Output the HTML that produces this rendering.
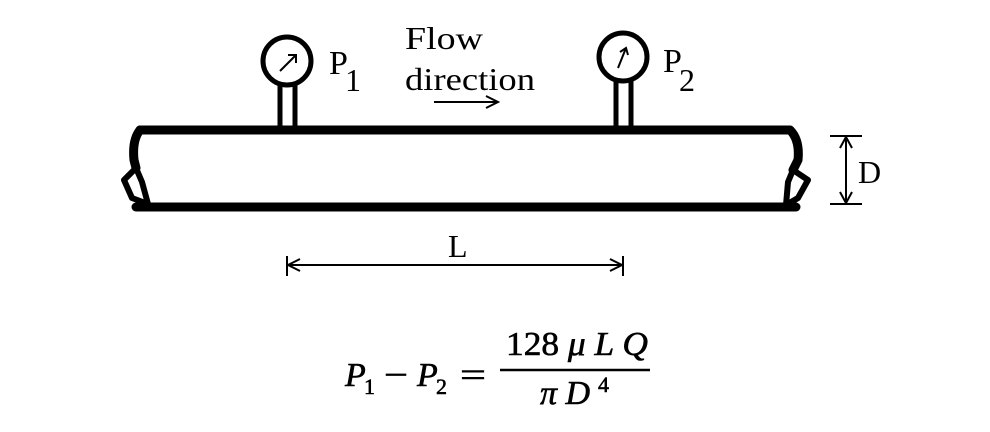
<!DOCTYPE html>
<html><head><style>
body{margin:0;background:#fff;}
svg{display:block;}
text{font-family:"Liberation Serif",serif;fill:#000;}
</style></head><body>
<svg width="990" height="432" viewBox="0 0 990 432">
<g fill="none" stroke="#000" stroke-width="9" stroke-linejoin="round" stroke-linecap="round">
<line x1="140" y1="130" x2="790" y2="130"/>
<line x1="136" y1="207" x2="796" y2="207"/>
<path d="M140 130 Q132 140 134 160 L136 168"/>
<path d="M136 168 L124 180 L132 198 L148 204 L142 182 Z" stroke-width="6"/>
<path d="M790 130 Q800 140 798 160 L793 170"/>
<path d="M793 170 L808 180 L798 198 L786 205 L788 182 Z" stroke-width="6"/>
<circle cx="287" cy="61" r="24" stroke-width="5"/>
<line x1="280" y1="85" x2="280" y2="127" stroke-width="5" stroke-linecap="butt"/>
<line x1="295" y1="85" x2="295" y2="127" stroke-width="5" stroke-linecap="butt"/>
<circle cx="623" cy="57" r="24" stroke-width="5"/>
<line x1="616" y1="81" x2="616" y2="127" stroke-width="5" stroke-linecap="butt"/>
<line x1="631" y1="81" x2="631" y2="127" stroke-width="5" stroke-linecap="butt"/>
</g>
<g fill="none" stroke="#000" stroke-width="2">
<line x1="280" y1="71" x2="296" y2="55"/><path d="M288 55 L296 55 L296 63"/>
<line x1="618" y1="68" x2="626" y2="48"/><path d="M620 52 L626 48 L628 55"/>
<line x1="434" y1="102" x2="498" y2="102"/><path d="M486 96 L498 102 L486 108"/>
<line x1="830" y1="136" x2="862" y2="136"/><line x1="830" y1="204" x2="862" y2="204"/>
<line x1="846" y1="137" x2="846" y2="203"/>
<path d="M840 148 L846 137 L852 148"/><path d="M840 192 L846 203 L852 192"/>
<line x1="287" y1="256" x2="287" y2="276"/><line x1="623" y1="256" x2="623" y2="276"/>
<line x1="288" y1="265" x2="622" y2="265"/>
<path d="M300 259 L288 265 L300 271"/><path d="M610 259 L622 265 L610 271"/>
<line x1="500" y1="370" x2="650" y2="370" stroke-width="2.5"/>
</g>
<text x="329" y="74" font-size="34">P</text><text x="345" y="91" font-size="32">1</text>
<text x="663" y="72" font-size="34">P</text><text x="679" y="91" font-size="32">2</text>
<text x="405" y="49" font-size="32" textLength="78" lengthAdjust="spacingAndGlyphs">Flow</text>
<text x="405" y="90" font-size="32" textLength="130" lengthAdjust="spacingAndGlyphs">direction</text>
<text x="858" y="183" font-size="32">D</text>
<text x="448" y="257" font-size="32">L</text>
<g font-size="34" stroke="#000" stroke-width="0.6">
<text x="345" y="386" font-style="italic">P</text><text x="364" y="394" font-size="22">1</text>
<text x="384" y="386" textLength="24" lengthAdjust="spacingAndGlyphs">−</text>
<text x="417" y="386" font-style="italic">P</text><text x="436" y="394" font-size="22">2</text>
<text x="460" y="386" textLength="26" lengthAdjust="spacingAndGlyphs">=</text>
<text x="506" y="355" textLength="142" lengthAdjust="spacingAndGlyphs">128 <tspan font-style="italic">μ L Q</tspan></text>
<text x="540" y="404" font-style="italic">π D</text><text x="598" y="392" font-size="22">4</text>
</g>
</svg>
</body></html>
